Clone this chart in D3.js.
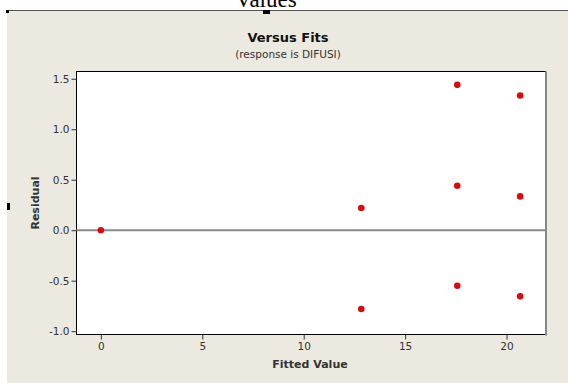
<!doctype html>
<meta charset='utf-8'>
<title>Versus Fits</title>
<style type="text/css">
	body { margin:0; background:#fff; }
	svg { display:block; }
	text { font-family:'DejaVu Sans', Verdana, sans-serif; }
</style>
<div id='container'></div>
<script src="https://cdnjs.cloudflare.com/ajax/libs/d3/7.8.5/d3.min.js" charset="utf-8"></script>
<script>

	// data
	var fitted   = [0, 12.84, 12.84, 17.57, 17.57, 17.57, 20.67, 20.67, 20.67]
	var residual = [0, 0.22, -0.78, 1.44, 0.44, -0.55, 1.335, 0.335, -0.655]
	var xTicks = [0, 5, 10, 15, 20]
	var yTicks = [-1.0, -0.5, 0.0, 0.5, 1.0, 1.5]

	var W = 568, H = 383
	var plot = {left:76.5, right:545.5, top:71.5, bottom:334.5}

	var svg = d3.select('#container').append('svg')
		.attr('width', W).attr('height', H)

	// clipped heading of the page above
	svg.append('text')
		.attr('x', 266).attr('y', 7)
		.attr('text-anchor','middle')
		.style('font-family','"Liberation Serif", serif')
		.style('font-size','23px')
		.text('Values')

	svg.append('rect')
		.attr('x', 7).attr('y', 10).attr('width', W - 7).attr('height', H - 10)
		.attr('fill', '#ece9e1')
	svg.append('line')
		.attr('x1', 7).attr('x2', W).attr('y1', 10.5).attr('y2', 10.5)
		.attr('stroke', '#555')
	svg.append('rect').attr('x', 6).attr('y', 10).attr('width', 3).attr('height', 3).attr('fill', '#000')
	svg.append('rect').attr('x', 263).attr('y', 10).attr('width', 7).attr('height', 4).attr('fill', '#000')
	svg.append('rect').attr('x', 7).attr('y', 203).attr('width', 3).attr('height', 7).attr('fill', '#000')

	var x = d3.scaleLinear().domain([-1.2, 21.92]).range([plot.left, plot.right])
	var y = d3.scaleLinear().domain([-1.033, 1.572]).range([plot.bottom, plot.top])

	svg.append('rect')
		.attr('x', plot.left).attr('y', plot.top)
		.attr('width', plot.right - plot.left).attr('height', plot.bottom - plot.top)
		.attr('fill', '#fff').attr('stroke', '#000')
	svg.append('line')
		.attr('x1', plot.right + 0.5).attr('x2', plot.right + 0.5)
		.attr('y1', plot.top).attr('y2', plot.bottom + 1)
		.attr('stroke', '#888').attr('stroke-width', 2)

	// reference line at zero
	svg.append('line')
		.attr('x1', plot.left).attr('x2', plot.right)
		.attr('y1', y(0)).attr('y2', y(0))
		.attr('stroke', '#8a8a8a').attr('stroke-width', 2)

	var xAxis = svg.append('g')
		.attr('transform', 'translate(0,' + plot.bottom + ')')
		.call(d3.axisBottom(x).tickValues(xTicks).tickSize(5).tickPadding(3).tickFormat(d3.format('d')))
	var yAxis = svg.append('g')
		.attr('transform', 'translate(' + plot.left + ',0)')
		.call(d3.axisLeft(y).tickValues(yTicks).tickSize(5).tickPadding(2).tickFormat(d3.format('.1f')))

	;[xAxis, yAxis].forEach(function(g) {
		g.select('.domain').remove()
		g.selectAll('line').attr('stroke', '#333')
		g.selectAll('text')
			.attr('fill', '#333')
			.style('font-family', "'DejaVu Sans', Verdana, sans-serif")
			.style('font-size', '10.5px')
	})
	yAxis.selectAll('text').text(function(d) { return d3.format('.1f')(d).replace('−', '-') })

	svg.selectAll('circle.pt')
		.data(fitted.map(function(f, i) { return [f, residual[i]] }))
		.enter().append('circle')
		.attr('class', 'pt')
		.attr('cx', function(d) { return x(d[0]) })
		.attr('cy', function(d) { return y(d[1]) })
		.attr('r', 3.3)
		.attr('fill', '#d40d12')

	svg.append('text')
		.attr('x', 288).attr('y', 42)
		.attr('text-anchor', 'middle')
		.style('font-weight', 'bold').style('font-size', '13px').attr('fill', '#111')
		.text('Versus Fits')
	svg.append('text')
		.attr('x', 288).attr('y', 58)
		.attr('text-anchor', 'middle')
		.style('font-size', '10.5px').attr('fill', '#333')
		.text('(response is DIFUSI)')

	svg.append('text')
		.attr('x', 310).attr('y', 368)
		.attr('text-anchor', 'middle')
		.style('font-weight', 'bold').style('font-size', '11px').attr('fill', '#333')
		.text('Fitted Value')
	svg.append('text')
		.attr('transform', 'translate(39,203) rotate(-90)')
		.attr('text-anchor', 'middle')
		.style('font-weight', 'bold').style('font-size', '11px').attr('fill', '#333')
		.text('Residual')

</script>
